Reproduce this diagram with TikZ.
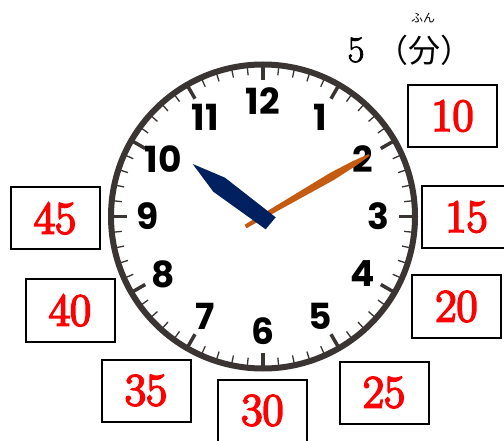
\documentclass[tikz,border=0pt]{standalone}
\usepackage{fontspec}
\newfontfamily\clockfont{Poppins}
\newfontfamily\cjkfont{Noto Sans CJK JP}
\newfontfamily\boxfont{Latin Modern Roman}[FakeBold=4]
\newfontfamily\titlefont{Latin Modern Roman}[FakeBold=2]
\definecolor{ringc}{RGB}{58,52,50}
\definecolor{hourc}{RGB}{0,32,96}
\definecolor{minc}{RGB}{197,90,17}
\begin{document}
\begin{tikzpicture}[x=1pt,y=-1pt,
  box/.style={draw=black, line width=2pt, minimum width=89pt, minimum height=62pt, inner sep=0pt, text=red, font=\boxfont\fontsize{46}{46}\selectfont},
  clocknum/.style={font=\clockfont\bfseries\fontsize{36}{36}\selectfont, inner sep=0pt},
  majortick/.style={draw=ringc, line width=3.5pt},
  minortick/.style={draw=ringc, line width=1.3pt}]
\useasboundingbox (0,0) rectangle (504,441);
\fill[white] (0,0) rectangle (504,441);
\coordinate (c) at (263,216.5);
% minor ticks
\foreach \i in {0,6,...,354}
  \draw[minortick] ({263+142*sin(\i)},{216.5-142*cos(\i)}) -- ({263+150*sin(\i)},{216.5-150*cos(\i)});
% major ticks
\foreach \i in {0,30,...,330}
  \draw[majortick] ({263+136*sin(\i)},{216.5-136*cos(\i)}) -- ({263+150*sin(\i)},{216.5-150*cos(\i)});
% ring
\draw[ringc, line width=6pt] (c) circle (152pt);
% numbers
\foreach \k in {1,...,12}
  \node[clocknum] (n\k) at ({263+115*sin(30*\k)},{216.5-115*cos(30*\k)}) {\k};
% minute hand
\fill[minc] (244.5,224.77) -- (281.17,202.67) -- (329.95,172.98) -- (352.8,161.14) -- (368.5,154.13)
  -- (369.5,155.87) -- (355.6,165.98) -- (333.95,179.9) -- (283.93,207.43) -- (246.5,228.23) -- cycle;
% hour hand
\fill[hourc] (192.7,164) -- (225,177.7) -- (275.7,217.3) -- (265.7,229.3) -- (213.3,191.7) -- cycle;
% title
\node[font=\titlefont\fontsize{37}{37}\selectfont, inner sep=0pt] (five) at (356,50) {5};
\node[font=\cjkfont\fontsize{32}{32}\selectfont, inner sep=0pt] (fen) at (424,50) {（分）};
\node[font=\cjkfont\fontsize{12}{12}\selectfont, inner sep=0pt] (ruby) at (423,18) {ふん};
% boxes
\node[box] (b10) at (452.5,116) {10};
\node[box] (b15) at (466.5,217) {15};
\node[box] (b20) at (456.5,306.5) {20};
\node[box] (b25) at (384,392.5) {25};
\node[box] (b30) at (262.5,410.5) {30};
\node[box] (b35) at (146,390.5) {35};
\node[box] (b40) at (70,310.5) {40};
\node[box] (b45) at (55,218.5) {45};
\end{tikzpicture}
\end{document}
